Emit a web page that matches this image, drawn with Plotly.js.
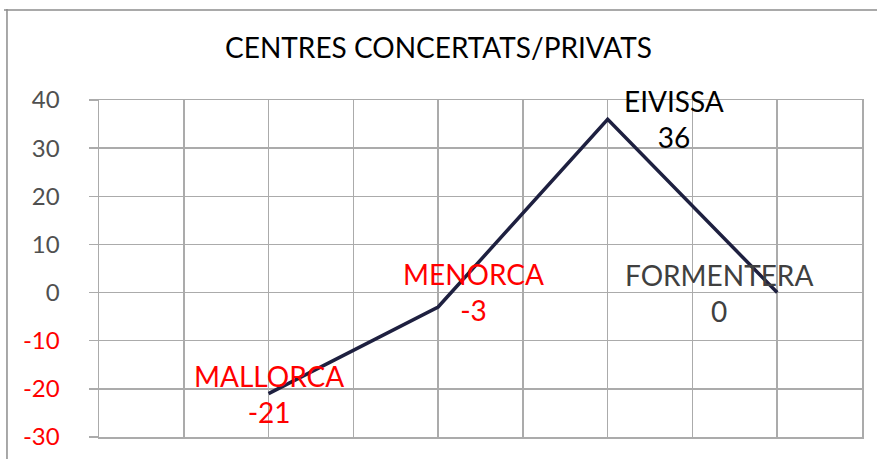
<!DOCTYPE html>
<html>
<head>
<meta charset="utf-8">
<script src="https://cdn.plot.ly/plotly-3.0.1.min.js"></script>
<style>
  html, body { margin: 0; padding: 0; background: #fff; }
  #chart { width: 877px; height: 459px; }
</style>
</head>
<body>
<div id="chart"></div>
<script>
// dades
const regions = ["MALLORCA", "MENORCA", "EIVISSA", "FORMENTERA"];
const regionX = [1, 2, 3, 4];
const values = [-21, -3, 36, 0];
const labelColors = ["#FF0000", "#FF0000", "#000000", "#404040"];
const yTicks = [-30, -20, -10, 0, 10, 20, 30, 40];

// desplaçament de cada etiqueta respecte del punt (px)
const labelShift = [[0, 0], [35, 15], [66, 0], [-58, 0]];

const gridCol = "#ABABAB";

const tickText = yTicks.map(v =>
  v < 0 ? `<span style="color:#FF0000">${v}</span>` : String(v));

const annotations = regions.map((r, i) => ({
  x: regionX[i],
  y: values[i],
  xref: "x",
  yref: "y",
  text: r + "<br>" + values[i],
  showarrow: false,
  xshift: labelShift[i][0],
  yshift: labelShift[i][1],
  font: { family: "Lato, sans-serif", size: 28, color: labelColors[i] },
  align: "center"
}));

// vora del gràfic (a dalt i a l'esquerra)
const shapes = [
  { type: "line", xref: "paper", yref: "paper", x0: -0.1245, x1: 1.03, y0: 1.267, y1: 1.267,
    line: { color: "#8C8C8C", width: 1.5 } },
  { type: "line", xref: "paper", yref: "paper", x0: -0.1206, x1: -0.1206, y0: 1.27, y1: -0.08,
    line: { color: "#8C8C8C", width: 1.5 } }
];

Plotly.newPlot("chart", [{
  x: regionX,
  y: values,
  type: "scatter",
  mode: "lines",
  line: { color: "#1E2040", width: 3.5 },
  hoverinfo: "skip"
}], {
  width: 877,
  height: 459,
  margin: { l: 99, r: 15, t: 100, b: 22 },
  paper_bgcolor: "#fff",
  plot_bgcolor: "#fff",
  showlegend: false,
  title: {
    text: "CENTRES CONCERTATS/PRIVATS",
    font: { family: "Lato, sans-serif", size: 28, color: "#000" },
    x: 0.5,
    xanchor: "center",
    y: 0.895,
    yanchor: "middle"
  },
  xaxis: {
    range: [0, 4.5],
    dtick: 0.5,
    tick0: 0,
    showticklabels: false,
    showgrid: true,
    gridcolor: gridCol,
    gridwidth: 1.5,
    zeroline: false,
    showline: true,
    mirror: true,
    linecolor: gridCol,
    linewidth: 1.5,
    fixedrange: true
  },
  yaxis: {
    range: [-30, 40],
    tickvals: yTicks,
    ticktext: tickText,
    ticks: "outside",
    ticklen: 9,
    tickcolor: gridCol,
    tickwidth: 1.5,
    ticklabelstandoff: 24,
    tickfont: { family: "Lato, sans-serif", size: 24, color: "#505050" },
    showgrid: true,
    gridcolor: gridCol,
    gridwidth: 1.5,
    zeroline: false,
    showline: true,
    mirror: true,
    linecolor: gridCol,
    linewidth: 1.5,
    fixedrange: true
  },
  annotations: annotations,
  shapes: shapes
}, { displayModeBar: false, staticPlot: true });
</script>
</body>
</html>
